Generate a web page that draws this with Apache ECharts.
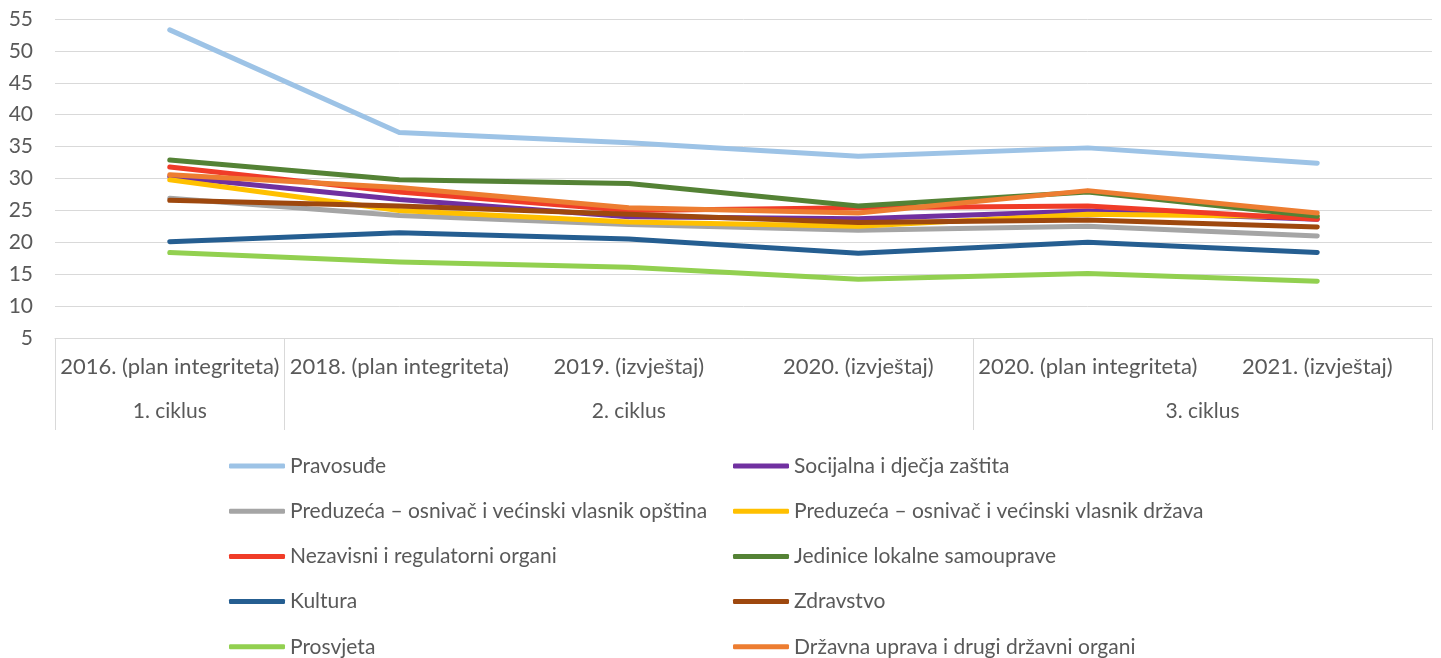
<!DOCTYPE html>
<html><head><meta charset="utf-8">
<script src="https://cdn.jsdelivr.net/npm/echarts@6/dist/echarts.min.js"></script>
<style>html,body{margin:0;padding:0;background:#fff}#c{width:1441px;height:658px}</style>
</head><body><div id="c"></div>
<script>
const categories = ['2016. (plan integriteta)', '2018. (plan integriteta)', '2019. (izvještaj)', '2020. (izvještaj)', '2020. (plan integriteta)', '2021. (izvještaj)'];
const cycleLabels = ['1. ciklus', '2. ciklus', '3. ciklus'];
const cyclePositions = [0, 2, 4.5];
const cycleBounds = [-0.5, 0.5, 3.5, 5.5];
const yTicks = [5, 10, 15, 20, 25, 30, 35, 40, 45, 50, 55];

const pravosudje = [53.3, 37.2, 35.6, 33.5, 34.8, 32.4];
const socijalna = [30.3, 26.7, 24.0, 23.7, 24.9, 23.6];
const preduzecaOpstina = [26.9, 24.2, 22.8, 21.9, 22.5, 21.0];
const preduzecaDrzava = [29.8, 25.0, 23.2, 22.5, 24.4, 24.0];
const nezavisni = [31.8, 27.9, 25.0, 25.4, 25.7, 23.6];
const jedinice = [32.9, 29.8, 29.2, 25.7, 27.9, 24.1];
const kultura = [20.1, 21.5, 20.5, 18.3, 20.0, 18.4];
const zdravstvo = [26.6, 25.7, 24.4, 23.1, 23.5, 22.4];
const prosvjeta = [18.4, 16.9, 16.1, 14.2, 15.1, 13.9];
const drzavnaUprava = [30.6, 28.6, 25.4, 24.6, 28.1, 24.6];

const seriesDefs = [
  ['Pravosuđe', pravosudje, '#9dc3e6'],
  ['Socijalna i dječja zaštita', socijalna, '#7030a0'],
  ['Preduzeća – osnivač i većinski vlasnik opština', preduzecaOpstina, '#a5a5a5'],
  ['Preduzeća – osnivač i većinski vlasnik država', preduzecaDrzava, '#ffc000'],
  ['Nezavisni i regulatorni organi', nezavisni, '#f03c28'],
  ['Jedinice lokalne samouprave', jedinice, '#548235'],
  ['Kultura', kultura, '#255e91'],
  ['Zdravstvo', zdravstvo, '#9e480e'],
  ['Prosvjeta', prosvjeta, '#92d050'],
  ['Državna uprava i drugi državni organi', drzavnaUprava, '#ed7d31']
];

const FONT = 'Lato';
const TXT = '#595959';
const chart = echarts.init(document.getElementById('c'), null, {renderer: 'canvas'});
const legendCommon = {
  orient: 'vertical', icon: 'roundRect', itemWidth: 56, itemHeight: 5, itemGap: 23.2,
  top: 450, height: 240, selectedMode: false,
  textStyle: {fontFamily: FONT, fontSize: 21, color: TXT, lineHeight: 22}
};
chart.setOption({
  animation: false,
  textStyle: {fontFamily: FONT},
  grid: {left: 55, right: 9, top: 19, bottom: 320, containLabel: false},
  legend: [
    Object.assign({left: 224, data: [seriesDefs[0][0], seriesDefs[2][0], seriesDefs[4][0], seriesDefs[6][0], seriesDefs[8][0]]}, legendCommon),
    Object.assign({left: 728, data: [seriesDefs[1][0], seriesDefs[3][0], seriesDefs[5][0], seriesDefs[7][0], seriesDefs[9][0]]}, legendCommon)
  ],
  xAxis: [
    {
      type: 'category', data: categories, boundaryGap: true, position: 'bottom',
      axisLine: {show: true, lineStyle: {color: '#d9d9d9', width: 1}},
      axisTick: {show: false},
      axisLabel: {fontFamily: FONT, fontSize: 22, color: TXT, margin: 18, interval: 0}
    },
    {
      type: 'value', min: -0.5, max: 5.5, position: 'bottom',
      axisLine: {show: false},
      splitLine: {show: false},
      axisTick: {show: true, customValues: cycleBounds, length: 92, lineStyle: {color: '#d9d9d9', width: 1}},
      axisLabel: {show: true, customValues: cyclePositions, fontFamily: FONT, fontSize: 21, color: TXT, margin: 63,
        formatter: function (v) { const i = cyclePositions.indexOf(v); return i >= 0 ? cycleLabels[i] : ''; }}
    }
  ],
  yAxis: {
    type: 'value', min: yTicks[0], max: yTicks[yTicks.length - 1], interval: 5,
    axisLine: {show: false}, axisTick: {show: false},
    splitLine: {show: true, lineStyle: {color: '#d9d9d9', width: 1}},
    axisLabel: {fontFamily: FONT, fontSize: 21, color: TXT, margin: 22}
  },
  series: seriesDefs.map(function (d) {
    return {
      name: d[0], type: 'line', data: d[1], xAxisIndex: 0, symbol: 'none', smooth: false,
      lineStyle: {color: d[2], width: 5, cap: 'round', join: 'round'},
      itemStyle: {color: d[2]}
    };
  })
});
</script></body></html>
